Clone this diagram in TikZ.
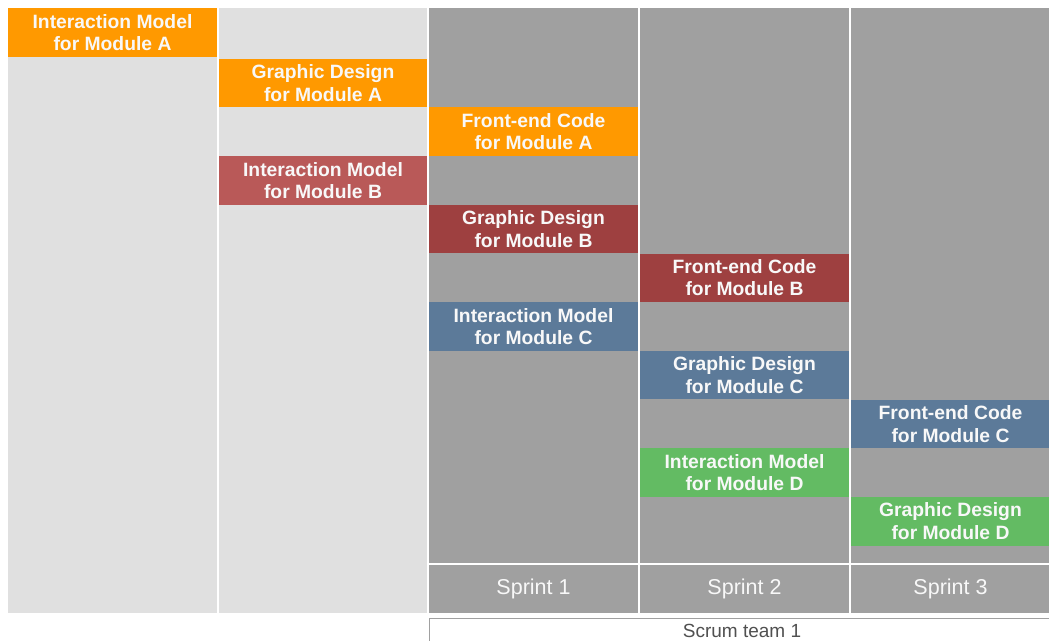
\documentclass[tikz,border=0pt]{standalone}
\usepackage{fontspec}
\setmainfont{Liberation Sans}
\definecolor{lgray}{RGB}{224,224,224}
\definecolor{dgray}{RGB}{160,160,160}
\definecolor{orA}{RGB}{255,153,0}
\definecolor{redL}{RGB}{185,89,88}
\definecolor{redD}{RGB}{158,64,64}
\definecolor{blueC}{RGB}{92,122,153}
\definecolor{greenD}{RGB}{99,187,99}
\definecolor{txt}{RGB}{248,248,248}
\definecolor{teamtxt}{RGB}{80,80,80}
\begin{document}
\begin{tikzpicture}[x=1pt,y=-1pt,
  colbox/.style={draw=none,anchor=north west,inner sep=0pt,outer sep=0pt},
  task/.style={anchor=north west,inner sep=0pt,outer sep=0pt,minimum height=48.5pt,
    text=txt,align=center,font=\fontsize{19.3}{22.5}\selectfont\bfseries},
  sprint/.style={anchor=north west,inner sep=0pt,outer sep=0pt,fill=dgray,minimum height=48pt,
    text=txt,font=\fontsize{21.5}{24}\selectfont},
  teambox/.style={draw=dgray,line width=1.2pt,fill=white,anchor=north west,inner sep=0pt,outer sep=0pt}]
\useasboundingbox (0,0) rectangle (1049,640);
% background columns
\node[colbox,fill=lgray,minimum width=209pt,minimum height=605pt] (c1) at (8,8) {};
\node[colbox,fill=lgray,minimum width=208pt,minimum height=605pt] (c2) at (219,8) {};
\node[colbox,fill=dgray,minimum width=209pt,minimum height=555pt] (c3) at (429,8) {};
\node[colbox,fill=dgray,minimum width=209pt,minimum height=555pt] (c4) at (640,8) {};
\node[colbox,fill=dgray,minimum width=199pt,minimum height=555pt] (c5) at (851,8) {};
% sprints
\node[sprint,minimum width=209pt] (s1) at (429,565) {Sprint 1};
\node[sprint,minimum width=209pt] (s2) at (640,565) {Sprint 2};
\node[sprint,minimum width=199pt] (s3) at (851,565) {Sprint 3};
% team
\node[teambox,minimum width=625pt,minimum height=26pt] (team) at (429.6,618.6) {};
\node[font=\fontsize{19}{21}\selectfont,text=teamtxt,inner sep=0pt] (teamlbl) at (742,630.5) {Scrum team 1};
% tasks
\node[task,fill=orA,minimum width=209pt,minimum height=49pt] (iA) at (8,8) {Interaction Model\\for Module A};
\node[task,fill=orA,minimum width=208pt] (gA) at (219,58.7) {Graphic Design\\for Module A};
\node[task,fill=orA,minimum width=209pt] (fA) at (429,107.4) {Front-end Code\\for Module A};
\node[task,fill=redL,minimum width=208pt] (iB) at (219,156.1) {Interaction Model\\for Module B};
\node[task,fill=redD,minimum width=209pt] (gB) at (429,204.8) {Graphic Design\\for Module B};
\node[task,fill=redD,minimum width=209pt] (fB) at (640,253.5) {Front-end Code\\for Module B};
\node[task,fill=blueC,minimum width=209pt] (iC) at (429,302.2) {Interaction Model\\for Module C};
\node[task,fill=blueC,minimum width=209pt] (gC) at (640,350.9) {Graphic Design\\for Module C};
\node[task,fill=blueC,minimum width=199pt] (fC) at (851,399.6) {Front-end Code\\for Module C};
\node[task,fill=greenD,minimum width=209pt] (iD) at (640,448.3) {Interaction Model\\for Module D};
\node[task,fill=greenD,minimum width=199pt] (gD) at (851,497) {Graphic Design\\for Module D};
\end{tikzpicture}
\end{document}
